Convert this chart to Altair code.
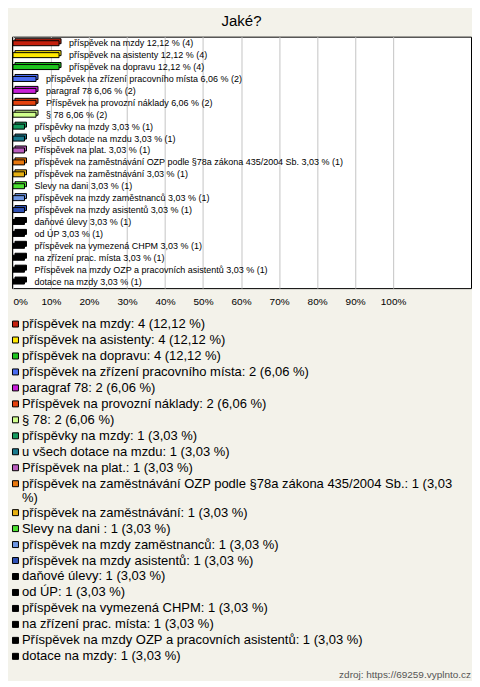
import textwrap
import altair as alt
import pandas as pd

FONT = "Liberation Sans"

title_text = "Jaké?"
source_text = "zdroj: https://69259.vyplnto.cz"

categories = [
    "příspěvek na mzdy",
    "příspěvek na asistenty",
    "příspěvek na dopravu",
    "příspěvek na zřízení pracovního místa",
    "paragraf 78",
    "Příspěvek na provozní náklady",
    "§ 78",
    "příspěvky na mzdy",
    "u všech dotace na mzdu",
    "Příspěvek na plat.",
    "příspěvek na zaměstnávání OZP podle §78a zákona 435/2004 Sb.",
    "příspěvek na zaměstnávání",
    "Slevy na dani ",
    "příspěvek na mzdy zaměstnanců",
    "příspěvek na mzdy asistentů",
    "daňové úlevy",
    "od ÚP",
    "příspěvek na vymezená CHPM",
    "na zřízení prac. místa",
    "Příspěvek na mzdy OZP a pracovních asistentů",
    "dotace na mzdy",
]
counts = [4, 4, 4, 2, 2, 2, 2, 1, 1, 1, 1, 1, 1, 1, 1, 1, 1, 1, 1, 1, 1]
percents = [12.12, 12.12, 12.12, 6.06, 6.06, 6.06, 6.06, 3.03, 3.03, 3.03, 3.03,
            3.03, 3.03, 3.03, 3.03, 3.03, 3.03, 3.03, 3.03, 3.03, 3.03]
colors = [
    "#C4200E", "#FFE800", "#1EC41E", "#4A6CF0", "#C81ED8", "#E4420E", "#D0FF8C",
    "#169A5E", "#197A8E", "#BA5EBE", "#E8780E", "#E6B012", "#4CE030", "#6E96E2",
    "#2E50B4", "#000000", "#000000", "#000000", "#000000", "#000000", "#000000",
]
tick_values = [0, 10, 20, 30, 40, 50, 60, 70, 80, 90, 100]


def fmt(p):
    return f"{p:.2f}".replace(".", ",")


df = pd.DataFrame({
    "cat": categories,
    "count": counts,
    "pct": percents,
    "order": list(range(len(categories))),
})
df["bar_label"] = [f"{c} {fmt(p)} % ({n})" for c, n, p in zip(categories, counts, percents)]

color_scale = alt.Scale(domain=categories, range=colors)
x_scale = alt.Scale(domain=[-0.26, 120.5], nice=False, zero=False)
y_scale = alt.Scale(type="point", padding=0.55)

base = alt.Chart(df).encode(
    y=alt.Y("order:O", scale=y_scale, axis=None),
)

x_enc = alt.X(
    "pct:Q",
    scale=x_scale,
    axis=alt.Axis(
        values=tick_values,
        labelExpr="datum.value + '%'",
        title=None,
        grid=True,
        gridColor="#C4C4C4",
        gridWidth=1,
        domain=False,
        ticks=False,
        tickSize=0,
        labelPadding=8,
        labelFontSize=10,
        labelFont=FONT,
        labelColor="#000000",
        labelFlush=3,
    ),
)

back = base.mark_bar(size=5, stroke="#000000", strokeWidth=1, xOffset=2, x2Offset=2, yOffset=-2).encode(
    x=x_enc,
    x2=alt.datum(0),
    color=alt.Color("cat:N", scale=color_scale, legend=None),
)
front = base.mark_bar(size=5, stroke="#000000", strokeWidth=1).encode(
    x=alt.X("pct:Q", scale=x_scale),
    x2=alt.datum(0),
    color=alt.Color("cat:N", scale=color_scale, legend=None),
)
labels = base.mark_text(align="left", baseline="middle", dx=10, fontSize=9, font=FONT, color="#000000").encode(
    x=alt.X("pct:Q", scale=x_scale),
    text="bar_label:N",
)

top = alt.layer(
    back, front, labels,
    view=alt.ViewBackground(fill="#FFFFFF", stroke="#000000", strokeWidth=1),
).properties(
    width=460,
    height=252,
    title=alt.TitleParams(
        title_text, fontSize=15, fontWeight="normal", font=FONT, color="#000000",
        anchor="middle", offset=8,
    ),
)

# legend list: one line per slot of 16 px; a wrapped line sits 14 px lower,
# and the entries after a wrapped one move down by 13 px
rows = []
extra = 0.0
for i, (c, n, p) in enumerate(zip(categories, counts, percents)):
    label = f"{c}: {n} ({fmt(p)} %)"
    lines = textwrap.wrap(label, 70) if len(label) > 70 else [label]
    for j, ln in enumerate(lines):
        slot = i + extra + j * 14 / 16
        rows.append({"cat": c, "line": ln, "slot": slot, "first": j == 0})
    extra += (len(lines) - 1) * 13 / 16
leg = pd.DataFrame(rows)
max_slot = leg["slot"].max()

leg_y = alt.Y("slot:Q", scale=alt.Scale(domain=[-0.5, max_slot + 0.5], reverse=True, nice=False, zero=False), axis=None)
leg_base = alt.Chart(leg).encode(y=leg_y)
squares = leg_base.transform_filter("datum.first").mark_square(
    size=36, stroke="#000000", strokeWidth=1, opacity=1
).encode(
    x=alt.value(3.5),
    color=alt.Color("cat:N", scale=color_scale, legend=None),
)
leg_text = leg_base.mark_text(align="left", baseline="middle", fontSize=13, font=FONT, color="#000000").encode(
    x=alt.value(10),
    text="line:N",
)
legend = alt.layer(
    squares, leg_text,
    view=alt.ViewBackground(fill="transparent", strokeWidth=0),
).properties(
    width=460,
    height=16 * (max_slot + 1),
    title=alt.TitleParams(
        source_text, orient="bottom", anchor="end", fontSize=10, fontWeight="normal",
        font=FONT, color="#555555", offset=6,
    ),
)

chart = alt.vconcat(top, legend, spacing=9).properties(
    padding={"left": 2, "top": 4, "right": 0, "bottom": 0},
    background="#F3F2EA",
).configure_view(strokeWidth=0)

chart.save("out.html", embed_options={"renderer": "svg", "actions": False})
